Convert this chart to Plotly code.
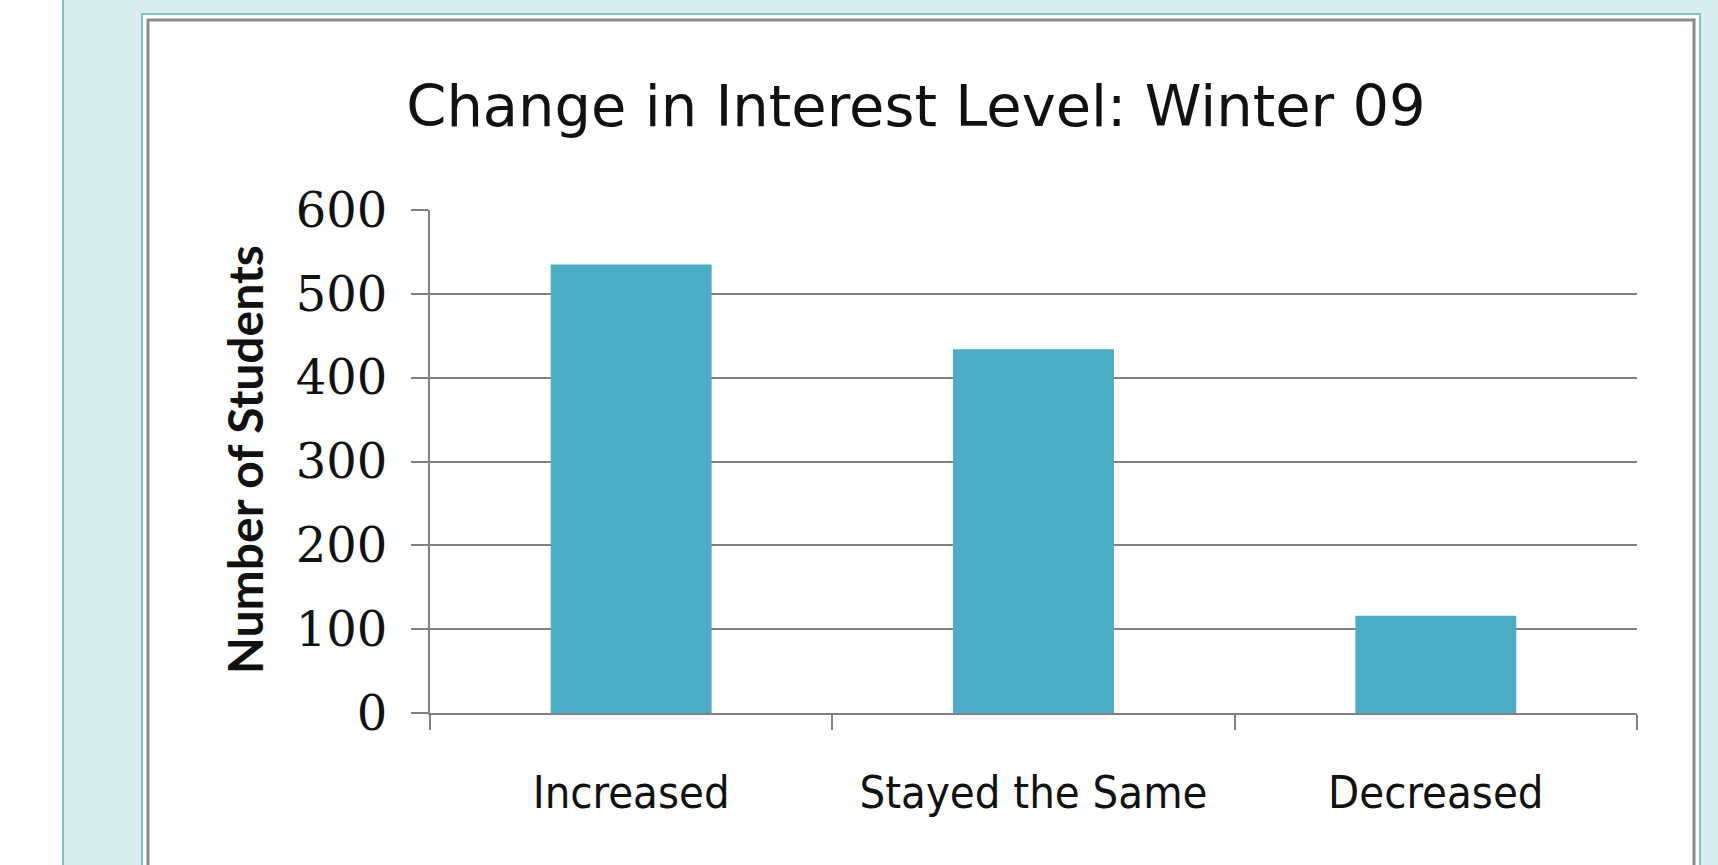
import plotly.graph_objects as go

# Survey results: change in interest level, Winter 09
categories = ["Increased", "Stayed the Same", "Decreased"]
students = [535, 434, 116]
y_ticks = [0, 100, 200, 300, 400, 500, 600]

FIG_W, FIG_H = 1718, 865
M_L, M_R, M_T, M_B = 430, 81, 210, 152
PW = FIG_W - M_L - M_R
PH = FIG_H - M_T - M_B


def px_x(px):
    return (px - M_L) / PW


def px_y(py):
    return (FIG_H - M_B - py) / PH


TEAL_BG = "#d9edf0"
TEAL_LINE = "#7cc4ca"
GRID = "#808080"
BAR = "#4bacc6"

fig = go.Figure(
    go.Bar(
        x=categories,
        y=students,
        marker=dict(color=BAR, line=dict(width=0)),
        width=0.4,
    )
)

shapes = [
    # slide background band
    dict(type="rect", xref="paper", yref="paper", layer="below",
         x0=px_x(63), x1=px_x(1740), y0=px_y(900), y1=px_y(-20),
         fillcolor=TEAL_BG, line=dict(width=0)),
    dict(type="line", xref="paper", yref="paper", layer="below",
         x0=px_x(63), x1=px_x(63), y0=px_y(900), y1=px_y(-20),
         line=dict(color=TEAL_LINE, width=2)),
    # chart frame
    dict(type="rect", xref="paper", yref="paper", layer="below",
         x0=px_x(142), x1=px_x(1700), y0=px_y(900), y1=px_y(14),
         fillcolor="white", line=dict(color=TEAL_LINE, width=2)),
    dict(type="rect", xref="paper", yref="paper", layer="below",
         x0=px_x(148), x1=px_x(1694), y0=px_y(900), y1=px_y(20),
         fillcolor="rgba(0,0,0,0)", line=dict(color="#8a8a8a", width=3)),
]

fig.update_layout(
    width=FIG_W,
    height=FIG_H,
    margin=dict(l=M_L, r=M_R, t=M_T, b=M_B, pad=0),
    paper_bgcolor="white",
    plot_bgcolor="white",
    showlegend=False,
    shapes=shapes,
    title=dict(
        text="Change in Interest Level: Winter 09",
        x=916 / FIG_W, xanchor="center",
        y=1 - 106 / FIG_H, yanchor="middle",
        font=dict(family="'DejaVu Sans', 'Open Sans', sans-serif", size=57.5, color="#111111"),
    ),
    annotations=[
        dict(
            text="<b>Number of Students</b>",
            xref="paper", yref="paper",
            x=px_x(244), y=px_y(460),
            xanchor="center", yanchor="middle",
            textangle=-90, showarrow=False,
            font=dict(family="Lato, 'Open Sans', sans-serif", size=48, color="#111111"),
        )
    ],
)

fig.update_xaxes(
    type="category",
    range=[-0.5, 2.5],
    showline=True, linecolor=GRID, linewidth=2,
    ticks="outside", tickson="boundaries", ticklen=15, tickwidth=2, tickcolor=GRID,
    showgrid=False,
    tickfont=dict(family="'Liberation Sans Narrow', 'DejaVu Sans Condensed', Roboto, sans-serif",
                  size=45, color="#111111"),
    ticklabelstandoff=39,
)

fig.update_yaxes(
    range=[0, 600],
    tickvals=y_ticks,
    showline=True, linecolor=GRID, linewidth=2,
    ticks="outside", ticklen=17, tickwidth=2, tickcolor=GRID,
    showgrid=True, gridcolor=GRID, gridwidth=2,
    zeroline=False,
    tickfont=dict(family="'DejaVu Serif', 'Liberation Serif', serif", size=48, color="#111111"),
    ticklabelstandoff=14,
)

fig.write_html("out.html")
